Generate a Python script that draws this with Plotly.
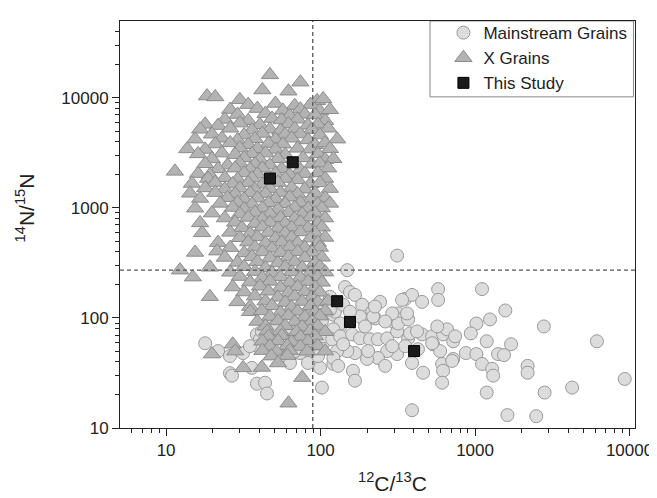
import plotly.graph_objects as go

# ---------------- data ----------------
# Mainstream grains: 12C/13C and 14N/15N
ms_x = [17.9, 21.7, 25.9, 31.5, 25.9, 26.7, 35.9, 38.7, 43.7, 45,
        38.7, 40.5, 45.7, 81.7, 99.2, 121, 94.9, 115, 85.5, 73.6,
        49.2, 39.3, 121, 99.2, 99.2, 102, 50.7, 63.4, 79.3, 58.9,
        68.3, 92.1, 63.4, 82.9, 54.7, 41.7, 73.6, 88, 102, 107,
        112, 96.3, 34.9,
        115, 124, 134, 140, 144, 155, 149, 167, 186, 115,
        216, 225, 194, 134, 121, 104, 119, 134, 160, 180,
        209, 235, 270, 313, 318, 342, 295, 353, 391, 454,
        577, 577, 369, 454, 527, 621, 659, 722, 535, 594,
        612, 621, 722, 461, 391, 313, 270, 235, 200, 167,
        149, 128, 121, 130, 162, 167, 391, 219, 291, 203,
        318, 369, 380, 291, 363, 421, 337, 243, 262, 353,
        225, 262, 427, 140, 180, 194, 155,
        1110, 1570, 1250, 1020, 939, 743, 569, 527, 711, 612,
        872, 1020, 1110, 1190, 1290, 1310, 1410, 1540, 1710, 1190,
        1620, 2490, 2820, 2190, 2190, 2790, 4250, 6150, 9310, 313]
ms_y = [58.9, 50, 45.1, 48, 31.5, 29.9, 35.2, 25.3, 25.8, 20.6,
        70.9, 64, 87.3, 110, 107, 107, 75.5, 65.3, 48, 48,
        48, 55.4, 38.2, 58.9, 35.2, 23.3, 83.8, 75.5, 83.8, 61.4,
        50, 68.1, 39, 39, 45.1, 75.5, 103, 127, 92.9, 61.4,
        140, 45.1, 55.4,
        156, 114, 83.8, 132, 191, 172, 272, 162, 132, 119,
        114, 99, 92.9, 89.1, 78.8, 68.1, 64, 68.1, 70.9, 65.3,
        64, 64, 65.3, 75.5, 110, 99, 92.9, 149, 162, 140,
        183, 146, 65.3, 70.9, 68.1, 70.9, 78.8, 61.4, 57.7, 50,
        38.2, 33.1, 42.4, 31.8, 39, 47, 50, 43.3, 42.4, 48,
        50, 50, 43.3, 36.7, 33.1, 26.9, 14.5, 103, 55.4, 50,
        89.1, 97, 72.4, 110, 110, 75.5, 146, 140, 92.9, 55.4,
        127, 36.7, 52, 57.7, 103, 83.8, 114,
        183, 117, 97, 89.1, 72.4, 68.1, 83.8, 58.9, 40.7, 25.8,
        48, 47, 38.2, 61.4, 34.5, 29.9, 47, 46, 57.7, 21,
        13.1, 12.8, 21, 36.7, 31.8, 83.8, 23.3, 61.4, 27.9, 369]

# X grains
xg_x = [47, 74, 42, 62, 18.4, 20.8, 30, 95, 104,
        34, 51, 68, 86,
        26, 39, 57, 74, 99, 115,
        29, 44, 63, 79, 92,
        24, 34, 48.5, 56, 71, 107,
        17.9, 21.7, 30, 40.5, 62, 83, 96,
        16.6, 26, 36, 47, 55, 68, 88, 112,
        19.8, 32, 42, 59, 74, 99,
        15.4, 23, 29, 37.6, 51, 65, 83, 128,
        20.8, 26, 34, 46, 57, 92, 107,
        13.7, 17.9, 30, 39, 51, 71, 86, 115,
        16.1, 23, 28, 36, 44, 59, 96,
        19.8, 32, 40.5, 53, 77, 107, 121,
        17.9, 25, 30, 37.6, 47, 88, 99,
        11.4, 21.7, 28, 35, 42, 56, 74, 112,
        16.1, 19.2, 32, 39, 51, 63, 79, 96,
        18.7, 24, 29, 36, 59, 71, 107,
        14.7, 20.8, 27, 34, 42, 53, 86, 99,
        17.9, 24, 30, 37.6, 47, 65, 79, 115,
        14.3, 20.8, 28, 35, 44, 55, 71, 92,
        16.6, 25, 32, 39, 51, 63, 86, 107,
        22.4, 29, 36, 46, 59, 74, 96, 115,
        15.4, 27, 32, 42, 53, 68, 83, 102,
        19.8, 30, 37.6, 47, 62, 76, 92,
        24, 34, 42, 55, 68, 86, 107,
        16.6, 28, 37.6, 47, 59, 74, 96,
        31, 42, 53, 65, 83, 102,
        17.1, 26, 35, 46, 59, 74, 92,
        30, 39, 51, 65, 86, 107,
        21.7, 34, 44, 56, 71, 96,
        26, 37.6, 48.5, 63, 79, 99,
        15.4, 21.4, 32, 42, 55, 71, 88,
        24, 36, 47, 62, 79, 102,
        29, 39, 53, 68, 92,
        19.2, 32, 44, 59, 76, 99,
        12.3,
        26, 37.6, 48.5, 65, 86, 107,
        14.9, 30, 42, 55, 74, 96,
        35, 47, 63, 83, 102,
        27, 40.5, 55, 71, 92,
        32, 46, 62, 79, 99,
        19.2, 37.6, 53, 68, 88,
        29, 44, 59, 76, 96, 112,
        35, 48.5, 65, 86,
        35, 41.7, 55, 71, 92, 107,
        47, 62, 79, 99,
        39, 53, 68, 88,
        44, 59, 76, 96,
        45, 55, 70, 86, 107,
        46, 56, 74, 92,
        42, 53, 65, 83,
        27,
        47, 61, 74, 96,
        28, 42, 52, 63, 82, 107,
        19.8, 48, 61,
        53, 31.5, 41.7, 76, 62]
xg_y = [16200, 13900, 11800, 11500, 10400, 10200, 9640, 9400, 9800,
        8690, 8900, 8500, 8700,
        7840, 8000, 7700, 7900, 7600, 7800,
        7070, 7200, 6900, 7100, 7000,
        6380, 6200, 6500, 6300, 6400, 6200,
        5750, 5600, 5900, 5700, 5800, 5650, 5750,
        5190, 5300, 5100, 5200, 5050, 5250, 5150, 5300,
        4680, 4600, 4750, 4650, 4700, 4600,
        4220, 4300, 4150, 4250, 4200, 4300, 4150, 4220,
        3810, 3900, 3750, 3850, 3800, 3750, 3900,
        3440, 3400, 3500, 3450, 3400, 3480, 3420, 3450,
        3100, 3150, 3050, 3100, 3150, 3050, 3100,
        2790, 2850, 2750, 2800, 2850, 2750, 2800,
        2520, 2450, 2550, 2500, 2450, 2500, 2550,
        2150, 2270, 2300, 2250, 2300, 2270, 2230, 2300,
        2050, 2000, 2080, 2030, 2060, 2000, 2050, 2080,
        1850, 1880, 1820, 1870, 1850, 1800, 1850,
        1670, 1700, 1650, 1690, 1640, 1700, 1660, 1690,
        1520, 1480, 1510, 1470, 1500, 1530, 1480, 1500,
        1360, 1380, 1340, 1370, 1350, 1380, 1340, 1360,
        1220, 1240, 1200, 1230, 1210, 1250, 1200, 1230,
        1100, 1120, 1080, 1110, 1090, 1120, 1080, 1100,
        995, 1010, 980, 1000, 970, 1010, 990, 1000,
        898, 880, 910, 890, 905, 880, 900,
        810, 820, 795, 815, 800, 825, 810,
        731, 740, 720, 735, 725, 745, 730,
        659, 670, 650, 665, 655, 668,
        594, 600, 585, 598, 590, 605, 595,
        536, 545, 530, 540, 532, 540,
        484, 490, 478, 488, 480, 485,
        436, 440, 430, 442, 435, 438,
        394, 405, 390, 398, 392, 400, 395,
        355, 360, 350, 358, 352, 356,
        320, 325, 316, 322, 318,
        289, 292, 285, 290, 287, 293,
        272,
        260, 264, 256, 262, 258, 261,
        235, 238, 232, 236, 233, 237,
        212, 215, 210, 214, 211,
        191, 194, 189, 192, 190,
        172, 175, 170, 173, 171,
        156, 158, 154, 157, 155,
        140, 142, 138, 141, 139, 142,
        127, 129, 125, 128,
        114, 116, 112, 115, 113, 116,
        103, 105, 102, 104,
        93, 94, 92, 93.5,
        84, 85, 83, 84.5,
        75.5, 76, 75, 76.5, 75,
        68, 69, 67.5, 68.5,
        61.4, 62, 60.5, 61.5,
        57.7,
        55.4, 56, 55, 55.8,
        50, 50.5, 49.5, 50.5, 49.8, 50,
        47, 45, 45.5,
        39, 35.2, 35.5, 28.7, 16.8]

# This study
ts_x = [47, 66, 128, 155, 403]
ts_y = [1850, 2600, 142, 92, 50]

# Solar reference values (dashed lines)
solar_c = 89
solar_n = 272

x_ticks = [10, 100, 1000, 10000]
y_ticks = [10, 100, 1000, 10000]

FONT = "Arial, 'Liberation Sans', Helvetica, sans-serif"

fig = go.Figure()
fig.add_trace(go.Scatter(
    x=ms_x, y=ms_y, mode="markers", name="Mainstream Grains",
    marker=dict(symbol="circle", size=13, color="#dcdcdc",
                line=dict(color="#9a9a9a", width=1))))
fig.add_trace(go.Scatter(
    x=xg_x, y=xg_y, mode="markers", name="X Grains",
    marker=dict(symbol="triangle-up", size=15, color="#b3b3b3",
                line=dict(color="#8c8c8c", width=1))))
fig.add_trace(go.Scatter(
    x=ts_x, y=ts_y, mode="markers", name="This Study",
    marker=dict(symbol="square", size=11, color="#1a1a1a",
                line=dict(color="#000000", width=1))))

fig.add_shape(type="line", xref="x", yref="paper", x0=solar_c, x1=solar_c,
              y0=0, y1=1, line=dict(color="#555555", width=1.3, dash="4px,3px"),
              layer="above")
fig.add_shape(type="line", xref="paper", yref="y", x0=0, x1=1,
              y0=solar_n, y1=solar_n,
              line=dict(color="#555555", width=1.3, dash="4px,3px"),
              layer="above")
# legend frame
fig.add_shape(type="rect", xref="paper", yref="paper", x0=0.602, x1=0.997,
              y0=0.8136, y1=1.0, line=dict(color="#888888", width=1),
              fillcolor="white", layer="below")

minor_x = [6, 7, 8, 9] + [d * 10 for d in range(2, 10)] + \
          [d * 100 for d in range(2, 10)] + [d * 1000 for d in range(2, 10)]
minor_y = [d * 10 for d in range(2, 10)] + [d * 100 for d in range(2, 10)] + \
          [d * 1000 for d in range(2, 10)] + [20000, 30000, 40000]

axis_common = dict(
    type="log", showgrid=False, zeroline=False, showline=True,
    linecolor="#222", linewidth=1, mirror=True, ticks="outside",
    ticklen=7, tickwidth=1, tickcolor="#222", automargin=False,
    tickfont=dict(family=FONT, size=17, color="#222"),
)

fig.update_xaxes(**axis_common, range=[0.7016, 4.0354],
                 tickmode="array", tickvals=x_ticks,
                 ticktext=[str(v) for v in x_ticks],
                 minor=dict(tickmode="array", tickvals=minor_x,
                            ticks="outside", ticklen=4, tickcolor="#222",
                            showgrid=False))
fig.update_yaxes(**axis_common, range=[1, 4.699],
                 tickmode="array", tickvals=y_ticks,
                 ticktext=[str(v) for v in y_ticks],
                 minor=dict(tickmode="array", tickvals=minor_y,
                            ticks="outside", ticklen=4, tickcolor="#222",
                            showgrid=False))

fig.add_annotation(text="<sup>12</sup>C/<sup>13</sup>C", xref="paper", yref="paper",
                   x=0.53, y=-0.133, xanchor="center", yanchor="middle",
                   showarrow=False, font=dict(family=FONT, size=21, color="#222"))
fig.add_annotation(text="<sup>14</sup>N/<sup>15</sup>N", xref="paper", yref="paper",
                   x=-0.184, y=0.54, xanchor="center", yanchor="middle", textangle=-90,
                   showarrow=False, font=dict(family=FONT, size=21, color="#222"))

# the page body adds an 8px offset, so the figure is 8px smaller and shifted
fig.update_layout(
    width=649, height=490,
    margin=dict(l=112, r=22, t=7, b=70),
    paper_bgcolor="white", plot_bgcolor="white",
    showlegend=True,
    legend=dict(x=0.995, y=1.0145, xanchor="right", yanchor="top",
                bgcolor="rgba(0,0,0,0)", borderwidth=0,
                font=dict(family=FONT, size=17, color="#222"),
                tracegroupgap=0),
)

fig.write_html("out.html")
